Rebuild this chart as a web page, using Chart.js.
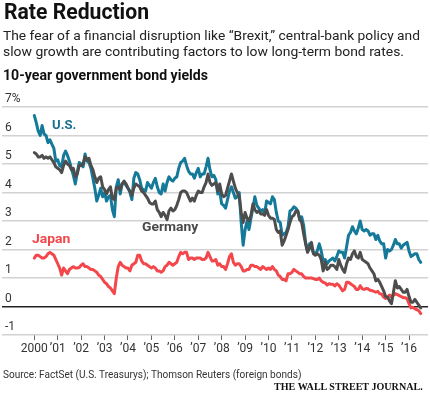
<!DOCTYPE html>
<html>
<head>
<meta charset="utf-8">
<script src="https://cdn.jsdelivr.net/npm/chart.js@4.4.1/dist/chart.umd.min.js"></script>
<style>
  html, body { margin: 0; padding: 0; background: #fff; }
  #wrap { position: relative; width: 430px; height: 394px; overflow: hidden; background: #fff; }
  #c { position: absolute; left: 0; top: 0; }
  .t { position: absolute; white-space: nowrap; line-height: 1; transform-origin: 0 0; font-family: Roboto, "Noto Sans", sans-serif; }
</style>
</head>
<body>
<div id="wrap">
  <canvas id="c" width="430" height="394"></canvas>
  <div class="t" id="title" data-x="4" data-b="19.5" data-w="145" style="font-size:21.5px;font-weight:700;color:#111">Rate Reduction</div>
  <div class="t" data-x="3.3" data-b="40.7" data-w="417" style="font-size:13.5px;color:#222">The fear of a financial disruption like “Brexit,” central-bank policy and</div>
  <div class="t" data-x="3.3" data-b="56.7" data-w="401" style="font-size:13.5px;color:#222">slow growth are contributing factors to low long-term bond rates.</div>
  <div class="t" data-x="3.3" data-b="80.7" data-w="205" style="font-size:13.8px;font-weight:700;color:#111">10-year government bond yields</div>
  <div class="t" data-x="51.7" data-b="129.3" data-w="24.3" style="font-size:13px;font-weight:700;color:#16718f">U.S.</div>
  <div class="t" data-x="141.7" data-b="231.7" data-w="56.3" style="font-size:12.5px;font-weight:700;color:#4a4a4a">Germany</div>
  <div class="t" data-x="32.3" data-b="243.3" data-w="38.4" style="font-size:12.5px;font-weight:700;color:#f2464b">Japan</div>
  <div class="t" data-x="3.3" data-b="379" data-w="298.4" style="font-size:10.5px;color:#333">Source: FactSet (U.S. Treasurys); Thomson Reuters (foreign bonds)</div>
  <div class="t" data-x="274" data-b="390" data-w="148.7" data-serif="1" style="font-size:10.8px;font-weight:700;color:#111;font-family:'Liberation Serif','DejaVu Serif',serif">THE WALL STREET JOURNAL.</div>
</div>
<script>
// ---- Data (monthly, Jan 2000 ... Jul 2016) ----
const usYields = [
  6.7, 6.45, 6.15, 6.0, 6.35, 6.05, 6.0, 5.75, 5.85, 5.7, 5.55, 5.1,
  5.15, 4.95, 4.9, 5.3, 5.45, 5.3, 5.1, 4.85, 4.6, 4.3, 4.7, 5.05,
  5.0, 4.9, 5.35, 5.1, 5.05, 4.85, 4.5, 4.15, 3.7, 3.9, 4.15, 3.85,
  4.0, 3.7, 3.85, 3.9, 3.4, 3.15, 4.2, 4.45, 3.95, 4.3, 4.35, 4.25,
  4.15, 4.0, 3.75, 4.5, 4.7, 4.65, 4.45, 4.15, 4.1, 4.05, 4.35, 4.25,
  4.15, 4.35, 4.5, 4.2, 4.0, 3.95, 4.3, 4.05, 4.35, 4.55, 4.45, 4.4,
  4.5, 4.55, 4.85, 5.05, 5.1, 5.2, 4.95, 4.75, 4.65, 4.65, 4.5, 4.7,
  4.85, 4.55, 4.65, 4.65, 4.9, 5.2, 4.8, 4.55, 4.6, 4.45, 3.95, 4.05,
  3.6, 3.55, 3.45, 3.75, 4.05, 4.2, 4.0, 3.8, 3.85, 4.0, 2.95, 2.15,
  2.7, 3.0, 2.7, 3.1, 3.45, 3.85, 3.55, 3.45, 3.35, 3.4, 3.25, 3.7,
  3.65, 3.6, 3.85, 3.75, 3.3, 3.0, 2.95, 2.5, 2.55, 2.6, 2.8, 3.35,
  3.4, 3.5, 3.45, 3.35, 3.05, 3.15, 2.85, 2.25, 1.95, 2.2, 2.05, 1.9,
  1.85, 1.95, 2.2, 1.95, 1.6, 1.65, 1.5, 1.6, 1.65, 1.7, 1.6, 1.75,
  1.95, 1.9, 1.9, 1.7, 2.1, 2.5, 2.6, 2.8, 2.65, 2.55, 2.75, 3.0,
  2.7, 2.65, 2.7, 2.65, 2.5, 2.55, 2.55, 2.35, 2.5, 2.3, 2.2, 2.2,
  1.7, 2.0, 1.95, 2.0, 2.15, 2.35, 2.2, 2.2, 2.05, 2.15, 2.2, 2.25,
  1.95, 1.75, 1.8, 1.85, 1.85, 1.65, 1.55
];
const germanyYields = [
  5.4, 5.35, 5.25, 5.25, 5.3, 5.2, 5.25, 5.2, 5.25, 5.15, 5.05, 4.9,
  4.85, 4.8, 4.7, 4.95, 5.1, 5.0, 4.95, 4.8, 4.85, 4.55, 4.65, 4.95,
  4.95, 5.0, 5.25, 5.15, 5.2, 4.95, 4.8, 4.55, 4.35, 4.5, 4.55, 4.2,
  4.1, 3.95, 4.1, 4.2, 3.8, 3.75, 4.15, 4.2, 4.1, 4.3, 4.4, 4.3,
  4.15, 4.05, 3.9, 4.15, 4.3, 4.25, 4.2, 4.05, 4.0, 3.9, 3.8, 3.65,
  3.6, 3.6, 3.7, 3.4, 3.3, 3.15, 3.3, 3.2, 3.05, 3.35, 3.45, 3.35,
  3.4, 3.55, 3.75, 4.0, 4.05, 4.05, 4.0, 3.85, 3.7, 3.8, 3.7, 3.9,
  4.05, 4.0, 4.0, 4.2, 4.35, 4.65, 4.35, 4.25, 4.3, 4.35, 4.05, 4.3,
  3.95, 3.85, 3.9, 4.15, 4.4, 4.65, 4.4, 4.15, 4.0, 3.85, 3.3, 2.95,
  3.3, 3.1, 3.0, 3.2, 3.6, 3.4, 3.3, 3.35, 3.25, 3.25, 3.2, 3.4,
  3.2, 3.1, 3.1, 3.05, 2.7, 2.6, 2.65, 2.15, 2.3, 2.5, 2.7, 2.95,
  3.15, 3.2, 3.35, 3.35, 3.05, 2.95, 2.55, 2.2, 1.9, 2.05, 2.25, 1.85,
  1.8, 1.85, 1.8, 1.65, 1.25, 1.55, 1.3, 1.35, 1.45, 1.45, 1.4, 1.3,
  1.65, 1.45, 1.3, 1.2, 1.5, 1.7, 1.65, 1.85, 1.95, 1.75, 1.7, 1.9,
  1.65, 1.6, 1.55, 1.5, 1.35, 1.25, 1.15, 0.9, 0.95, 0.85, 0.7, 0.55,
  0.35, 0.33, 0.2, 0.1, 0.5, 0.9, 0.65, 0.7, 0.6, 0.5, 0.5, 0.6,
  0.35, 0.15, 0.15, 0.25, 0.15, 0.05, -0.05
];
const japanYields = [
  1.7, 1.8, 1.8, 1.75, 1.7, 1.7, 1.75, 1.85, 1.9, 1.85, 1.8, 1.65,
  1.5, 1.35, 1.1, 1.35, 1.25, 1.15, 1.3, 1.35, 1.4, 1.35, 1.35, 1.37,
  1.45, 1.5, 1.4, 1.4, 1.35, 1.3, 1.3, 1.25, 1.2, 1.1, 1.05, 0.95,
  0.85, 0.8, 0.7, 0.65, 0.55, 0.45, 1.0, 1.4, 1.55, 1.45, 1.4, 1.35,
  1.35, 1.25, 1.45, 1.5, 1.55, 1.8, 1.8, 1.6, 1.5, 1.5, 1.45, 1.4,
  1.35, 1.4, 1.35, 1.25, 1.25, 1.2, 1.25, 1.4, 1.45, 1.55, 1.5, 1.45,
  1.5, 1.55, 1.75, 1.9, 1.85, 1.9, 1.9, 1.65, 1.7, 1.7, 1.65, 1.7,
  1.7, 1.7, 1.65, 1.65, 1.7, 1.9, 1.75, 1.6, 1.6, 1.65, 1.45, 1.5,
  1.4, 1.4, 1.3, 1.5, 1.75, 1.85, 1.55, 1.45, 1.5, 1.5, 1.4, 1.25,
  1.25, 1.3, 1.3, 1.45, 1.45, 1.4, 1.4, 1.35, 1.3, 1.4, 1.35, 1.3,
  1.35, 1.3, 1.4, 1.3, 1.25, 1.1, 1.05, 0.95, 0.95, 0.9, 1.15, 1.15,
  1.2, 1.3, 1.25, 1.2, 1.15, 1.15, 1.05, 1.0, 1.0, 1.0, 1.0, 0.98,
  0.95, 0.95, 1.0, 0.9, 0.85, 0.83, 0.75, 0.8, 0.78, 0.78, 0.72, 0.8,
  0.75, 0.65, 0.55, 0.6, 0.85, 0.85, 0.8, 0.75, 0.7, 0.6, 0.6, 0.73,
  0.62, 0.6, 0.63, 0.62, 0.57, 0.56, 0.53, 0.5, 0.53, 0.45, 0.43, 0.33,
  0.28, 0.33, 0.4, 0.33, 0.4, 0.45, 0.42, 0.38, 0.35, 0.31, 0.31, 0.27,
  0.1, -0.05, -0.03, -0.08, -0.11, -0.15, -0.25
];
const yearTicks = [2000, 2001, 2002, 2003, 2004, 2005, 2006, 2007, 2008, 2009, 2010, 2011, 2012, 2013, 2014, 2015, 2016];
const yearLabels = ['2000', '’01', '’02', '’03', '’04', '’05', '’06', '’07', '’08', '’09', '’10', '’11', '’12', '’13', '’14', '’15', '’16'];
const yTicks = [-1, 0, 1, 2, 3, 4, 5, 6, 7];
const yLabels = ['-1', '0', '1', '2', '3', '4', '5', '6', '7%'];

// month index -> decimal year
const monthX = i => 2000 + i / 12;
const toPts = arr => arr.map((v, i) => ({ x: monthX(i), y: v }));

// ---- Text placement (real HTML text) ----
function placeTexts() {
  document.querySelectorAll('.t').forEach(el => {
    el.style.transform = 'none';
    const fs = parseFloat(el.style.fontSize);
    const asc = el.dataset.serif ? 0.8375 : 0.842;
    el.style.left = el.dataset.x + 'px';
    el.style.top = (parseFloat(el.dataset.b) - asc * fs) + 'px';
    const w = el.getBoundingClientRect().width;
    const tw = parseFloat(el.dataset.w);
    if (w > 0) el.style.transform = 'scaleX(' + (tw / w) + ')';
  });
}
placeTexts();
if (document.fonts && document.fonts.ready) document.fonts.ready.then(placeTexts);

// ---- Chart ----
const ctx = document.getElementById('c').getContext('2d');
new Chart(ctx, {
  type: 'line',
  data: {
    datasets: [
      { label: 'Germany', data: toPts(germanyYields), borderColor: '#4d4d4d', order: 0 },
      { label: 'U.S.', data: toPts(usYields), borderColor: '#15799a', order: 1 },
      { label: 'Japan', data: toPts(japanYields), borderColor: '#f4474c', order: 2 }
    ]
  },
  options: {
    responsive: false,
    animation: false,
    devicePixelRatio: 1,
    layout: { padding: { left: 2, right: 2, top: 107, bottom: 34 } },
    plugins: { legend: { display: false }, tooltip: { enabled: false } },
    elements: {
      point: { radius: 0 },
      line: { borderWidth: 3, tension: 0, borderJoinStyle: 'round', borderCapStyle: 'round', fill: false }
    },
    scales: {
      x: {
        type: 'linear',
        min: 1998.62,
        max: 2016.81,
        afterBuildTicks: s => { s.ticks = yearTicks.map(v => ({ value: v })); },
        afterFit: s => { s.height = 25; },
        ticks: {
          autoSkip: false,
          maxRotation: 0,
          padding: 2,
          color: '#333',
          font: { family: 'Roboto', size: 12 },
          callback: (v) => { const k = yearTicks.indexOf(v); return k >= 0 ? yearLabels[k] : ''; }
        },
        grid: { drawOnChartArea: false, drawTicks: true, tickLength: 5, tickColor: '#666', lineWidth: 1 },
        border: { display: false }
      },
      y: {
        min: -1,
        max: 7,
        afterBuildTicks: s => { s.ticks = yTicks.map(v => ({ value: v })); },
        afterFit: s => { s.width = 0; },
        ticks: {
          mirror: true,
          padding: 3,
          labelOffset: -8,
          color: '#333',
          font: { family: 'Roboto', size: 12 },
          callback: (v) => { const k = yTicks.indexOf(v); return k >= 0 ? yLabels[k] : ''; }
        },
        grid: {
          drawTicks: false,
          color: c => (c.tick && c.tick.value === 0) ? '#222' : '#d2d2d2',
          lineWidth: 1.5
        },
        border: { display: false }
      }
    }
  }
});
</script>
</body>
</html>
